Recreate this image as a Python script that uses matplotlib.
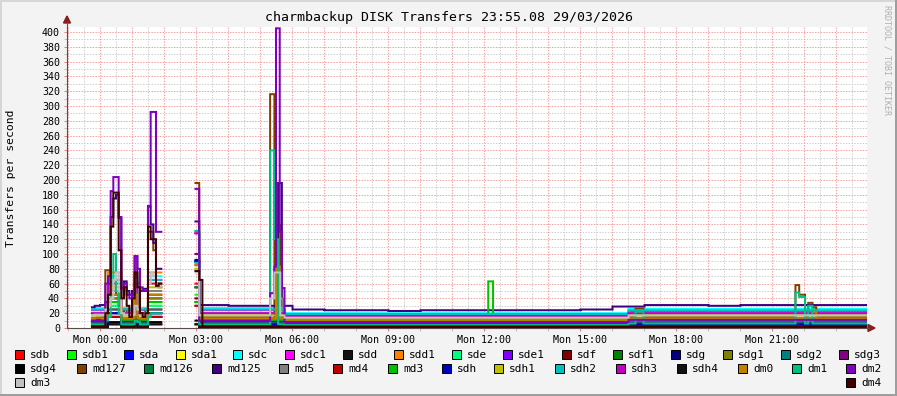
import numpy as np
import matplotlib
matplotlib.use('Agg')
import matplotlib.pyplot as plt
from matplotlib.patches import Rectangle, Polygon
from matplotlib.lines import Line2D

# ---------------- data ----------------
names = ['sdb', 'sdb1', 'sda', 'sda1', 'sdc', 'sdc1', 'sdd', 'sdd1', 'sde', 'sde1',
         'sdf', 'sdf1', 'sdg', 'sdg1', 'sdg2', 'sdg3', 'sdg4', 'md127', 'md126',
         'md125', 'md5', 'md4', 'md3', 'sdh', 'sdh1', 'sdh2', 'sdh3', 'sdh4',
         'dm0', 'dm1', 'dm2', 'dm3', 'dm4']
colors = ['#FF0000', '#00FF00', '#0000FF', '#FFFF00', '#00FFFF', '#FF00FF', '#111111',
          '#FF8000', '#00FF80', '#8000FF', '#800000', '#008000', '#000080', '#808000',
          '#008080', '#800080', '#000000', '#804000', '#008040', '#400080', '#808080',
          '#C00000', '#00C000', '#0000C0', '#C0C000', '#00C0C0', '#C000C0', '#111111',
          '#C08000', '#00C080', '#8000C0', '#C0C0C0', '#400000']

# typical levels (transfers/s) per series
lev_early = [8, 11, 5, 18, 27, 24, 1, 14, 7, 10, 3, 7, 5, 13, 7, 9, 2, 15, 5, 30, 20, 3, 11,
             5, 17, 25, 20, 1, 13, 5, 10, 17, 2]
lev_mid = [7, 9, 4, 15, 20, 17, 1, 11, 5, 8, 2, 5, 4, 11, 5, 7, 2, 12, 4, 24, 14, 3, 9,
           4, 14, 19, 16, 1, 11, 4, 8, 14, 2]
lev_late = [9, 11, 5, 18, 26, 22, 1, 14, 7, 10, 3, 7, 5, 13, 7, 9, 2, 15, 5, 31, 19, 3, 10,
            5, 17, 24, 20, 1, 13, 6, 11, 17, 2]
lev_burst = [25, 30, 20, 60, 70, 65, 5, 75, 30, 40, 15, 35, 15, 40, 25, 45, 8, 40, 20, 50,
             50, 15, 35, 20, 55, 65, 60, 5, 45, 40, 60, 50, 40]

# first block of data (5-minute samples starting 23:45 the day before)
r1_start = -0.25
r1_burst_steps = [6, 7, 8, 9, 10, 16, 21, 22, 23, 24, 25]
r1_detail = {
    'dm2':   [10, 10, 11, 10, 10, 60, 70, 185, 204, 204, 150, 54, 60, 45, 40, 45, 97, 80, 55, 50, 50, 165, 292, 292, 130, 130],
    'dm4':   [2, 2, 2, 2, 2, 20, 45, 137, 183, 183, 105, 40, 55, 30, 15, 40, 75, 55, 20, 15, 20, 137, 120, 120, 57, 60],
    'md125': [28, 30, 30, 31, 31, 35, 45, 150, 175, 180, 149, 50, 63, 50, 45, 50, 97, 60, 50, 53, 53, 164, 140, 115, 80, 80],
    'md127': [13, 13, 14, 14, 15, 78, 78, 60, 50, 45, 30, 25, 20, 25, 20, 18, 30, 25, 20, 20, 25, 130, 130, 105, 60, 55],
    'dm3':   [17, 18, 18, 17, 18, 25, 30, 40, 65, 75, 50, 20, 18, 18, 17, 18, 30, 25, 18, 18, 20, 60, 75, 70, 60, 57],
    'dm1':   [5, 5, 5, 5, 5, 10, 15, 60, 100, 50, 20, 5, 5, 5, 5, 5, 10, 8, 5, 5, 5, 15, 20, 20, 20, 20],
}

# second block of data
r2_start, r2_end = 2.97, 23.95
mid_from, late_from = 5.76, 16.5
md125_hours = list(range(3, 24))
md125_hourly = [31, 30, 30, 25, 24, 24, 23, 24, 24, 24, 24, 24, 25, 29, 31, 31, 30, 31, 31, 31, 31]
spike0300_t = (2.97, 3.09)
spike0300 = [60, 45, 90, 80, 85, 128, 5, 85, 131, 90, 40, 35, 92, 55, 55, 100, 10, 196, 55,
             144, 30, 30, 35, 90, 80, 88, 128, 5, 85, 131, 188, 75, 77]
spikes = [
    ('dm4', 3.09, 3.19, 65),
    ('md127', 5.31, 5.44, 316), ('dm1', 5.31, 5.44, 240), ('dm2', 5.31, 5.44, 47), ('dm3', 5.31, 5.44, 40),
    ('dm2', 5.44, 5.49, 83), ('dm3', 5.44, 5.62, 75), ('dm1', 5.44, 5.55, 120),
    ('md127', 5.49, 5.62, 139), ('dm0', 5.49, 5.62, 83),
    ('dm2', 5.49, 5.60, 405), ('md125', 5.55, 5.68, 196), ('dm2', 5.60, 5.68, 130),
    ('dm2', 5.68, 5.76, 54), ('md5', 5.62, 5.70, 40),
    ('md3', 12.13, 12.28, 63),
    ('md127', 16.72, 16.97, 26), ('dm1', 16.72, 16.97, 22),
    ('md127', 21.72, 21.84, 58), ('dm1', 21.72, 21.84, 48),
    ('md127', 21.84, 22.03, 45), ('dm1', 21.84, 22.03, 42),
    ('md127', 22.13, 22.25, 34), ('dm1', 22.13, 22.25, 30),
    ('md127', 22.25, 22.38, 28), ('dm0', 22.25, 22.38, 22),
]

tick_hours = [0, 3, 6, 9, 12, 15, 18, 21]
tick_labels = ['Mon 00:00', 'Mon 03:00', 'Mon 06:00', 'Mon 09:00', 'Mon 12:00',
               'Mon 15:00', 'Mon 18:00', 'Mon 21:00']
title = 'charmbackup DISK Transfers 23:55.08 29/03/2026'
ylabel = 'Transfers per second'

# ---------------- build series ----------------
t = np.arange(-0.25, 23.95 + 1e-9, 1 / 60.0)
series = {}
for i, n in enumerate(names):
    v = np.full(len(t), np.nan)
    # block 1
    m1 = t < r1_start + 26 / 12.0 - 1e-6
    k = np.clip(np.floor((t[m1] - r1_start) * 12 + 1e-9).astype(int), 0, 25)
    if n in r1_detail:
        v[m1] = np.array(r1_detail[n])[k]
    else:
        v[m1] = np.where(np.isin(k, r1_burst_steps), lev_burst[i], lev_early[i])
    # block 2
    m2 = t >= r2_start
    v[m2 & (t < mid_from)] = lev_early[i]
    v[m2 & (t >= mid_from) & (t < late_from)] = lev_mid[i]
    v[m2 & (t >= late_from)] = lev_late[i]
    if n == 'md125':
        for h, val in zip(md125_hours, md125_hourly):
            v[m2 & (t >= h) & (t < h + 1)] = val
    v[(t >= spike0300_t[0]) & (t < spike0300_t[1])] = spike0300[i]
    for (sn, t0, t1, val) in spikes:
        if sn == n:
            v[(t >= t0) & (t < t1)] = val
    series[n] = v

# ---------------- figure ----------------
W, H = 897, 396
MONO = 'DejaVu Sans Mono'
fig = plt.figure(figsize=(W / 100, H / 100), dpi=100, facecolor='#F3F3F3')


def fx(px):
    return px / W


def fy(py):
    return 1 - py / H


ax = fig.add_axes([fx(67), fy(328), 800 / W, 301 / H])
ax.set_facecolor('white')
ax.set_xlim(-1.031, 23.969)
ax.set_ylim(0, 406.8)

dots = (0, (1.4, 1.4))
for yv in range(10, 410, 10):
    if yv % 20 == 0:
        ax.axhline(yv, color='#F5A0A0', lw=0.72, ls=dots, zorder=1)
    else:
        ax.axhline(yv, color='#CFCFCF', lw=0.72, ls=dots, zorder=0.9)
for hv in np.arange(-1.0, 24.0, 0.5):
    if abs(hv - round(hv)) < 1e-6:
        ax.axvline(hv, color='#F5A0A0', lw=0.72, ls=dots, zorder=1)
    else:
        ax.axvline(hv, color='#CFCFCF', lw=0.72, ls=dots, zorder=0.9)

for i, n in enumerate(names):
    ax.plot(t, series[n], drawstyle='steps-post', color=colors[i], lw=1.45,
            solid_joinstyle='miter', zorder=2 + i * 0.01)

for s in ax.spines.values():
    s.set_visible(False)

ax.set_yticks(range(0, 401, 20))
ax.set_yticklabels([str(v) for v in range(0, 401, 20)], fontfamily=MONO, fontsize=7.2)
ax.set_yticks(range(0, 401, 10), minor=True)
ax.set_xticks(tick_hours)
ax.set_xticklabels(tick_labels, fontfamily=MONO, fontsize=7.2)
ax.set_xticks(np.arange(-1.0, 24.0, 1.0), minor=True)
ax.tick_params(axis='both', which='major', length=2, width=0.7, color='#E08080', pad=3)
ax.tick_params(axis='both', which='minor', length=2, width=0.7, color='#C0C0C0')

# axes lines and arrows
axc = '#5a4a4a'
arc = '#8a1c1c'
fig.add_artist(Line2D([fx(67), fx(869)], [fy(328), fy(328)], color=axc, lw=0.8))
fig.add_artist(Line2D([fx(67), fx(67)], [fy(328), fy(22)], color=axc, lw=0.8))
fig.add_artist(Polygon([[fx(868), fy(324.5)], [fx(875), fy(328)], [fx(868), fy(331.5)]],
                       closed=True, color=arc))
fig.add_artist(Polygon([[fx(63.5), fy(23)], [fx(67), fy(16)], [fx(70.5), fy(23)]],
                       closed=True, color=arc))

# texts
fig.text(fx(449), fy(18), title, ha='center', va='center', fontfamily=MONO, fontsize=9.5)
fig.text(fx(11), fy(178), ylabel, ha='center', va='center', rotation=90,
         fontfamily=MONO, fontsize=8.2)
fig.text(fx(887), fy(5), 'RRDTOOL / TOBI OETIKER', ha='center', va='top', rotation=270,
         fontfamily=MONO, fontsize=6, color='#B0B0B0')

# legend
row_y = [354.5, 368.5, 382.5]
row_x = [
    [15, 67, 124, 176, 233, 285, 343, 394, 452, 503, 562, 613, 671, 723, 781, 839],
    [15, 77, 144, 212, 279, 333, 388, 442, 494, 555, 616, 677, 738, 792, 846],
    [15, 846],
]
idx = 0
for r, xs in enumerate(row_x):
    for xb in xs:
        yc = row_y[r]
        fig.add_artist(Rectangle((fx(xb), fy(yc + 4.5)), 9 / W, 9 / H,
                                 facecolor=colors[idx], edgecolor='black', lw=0.7))
        fig.text(fx(xb + 15), fy(yc), names[idx], ha='left', va='center',
                 fontfamily=MONO, fontsize=8)
        idx += 1

# frame shading
fig.add_artist(Rectangle((0, fy(396)), 2 / W, 1, color='#D6D6D6', lw=0))
fig.add_artist(Rectangle((0, fy(2)), 1, 2 / H, color='#D6D6D6', lw=0))
fig.add_artist(Rectangle((fx(895), 0), 2 / W, 1, color='#9E9E9E', lw=0))
fig.add_artist(Rectangle((0, 0), 1, 2 / H, color='#9E9E9E', lw=0))

fig.savefig('out.png', dpi=100, facecolor=fig.get_facecolor())
